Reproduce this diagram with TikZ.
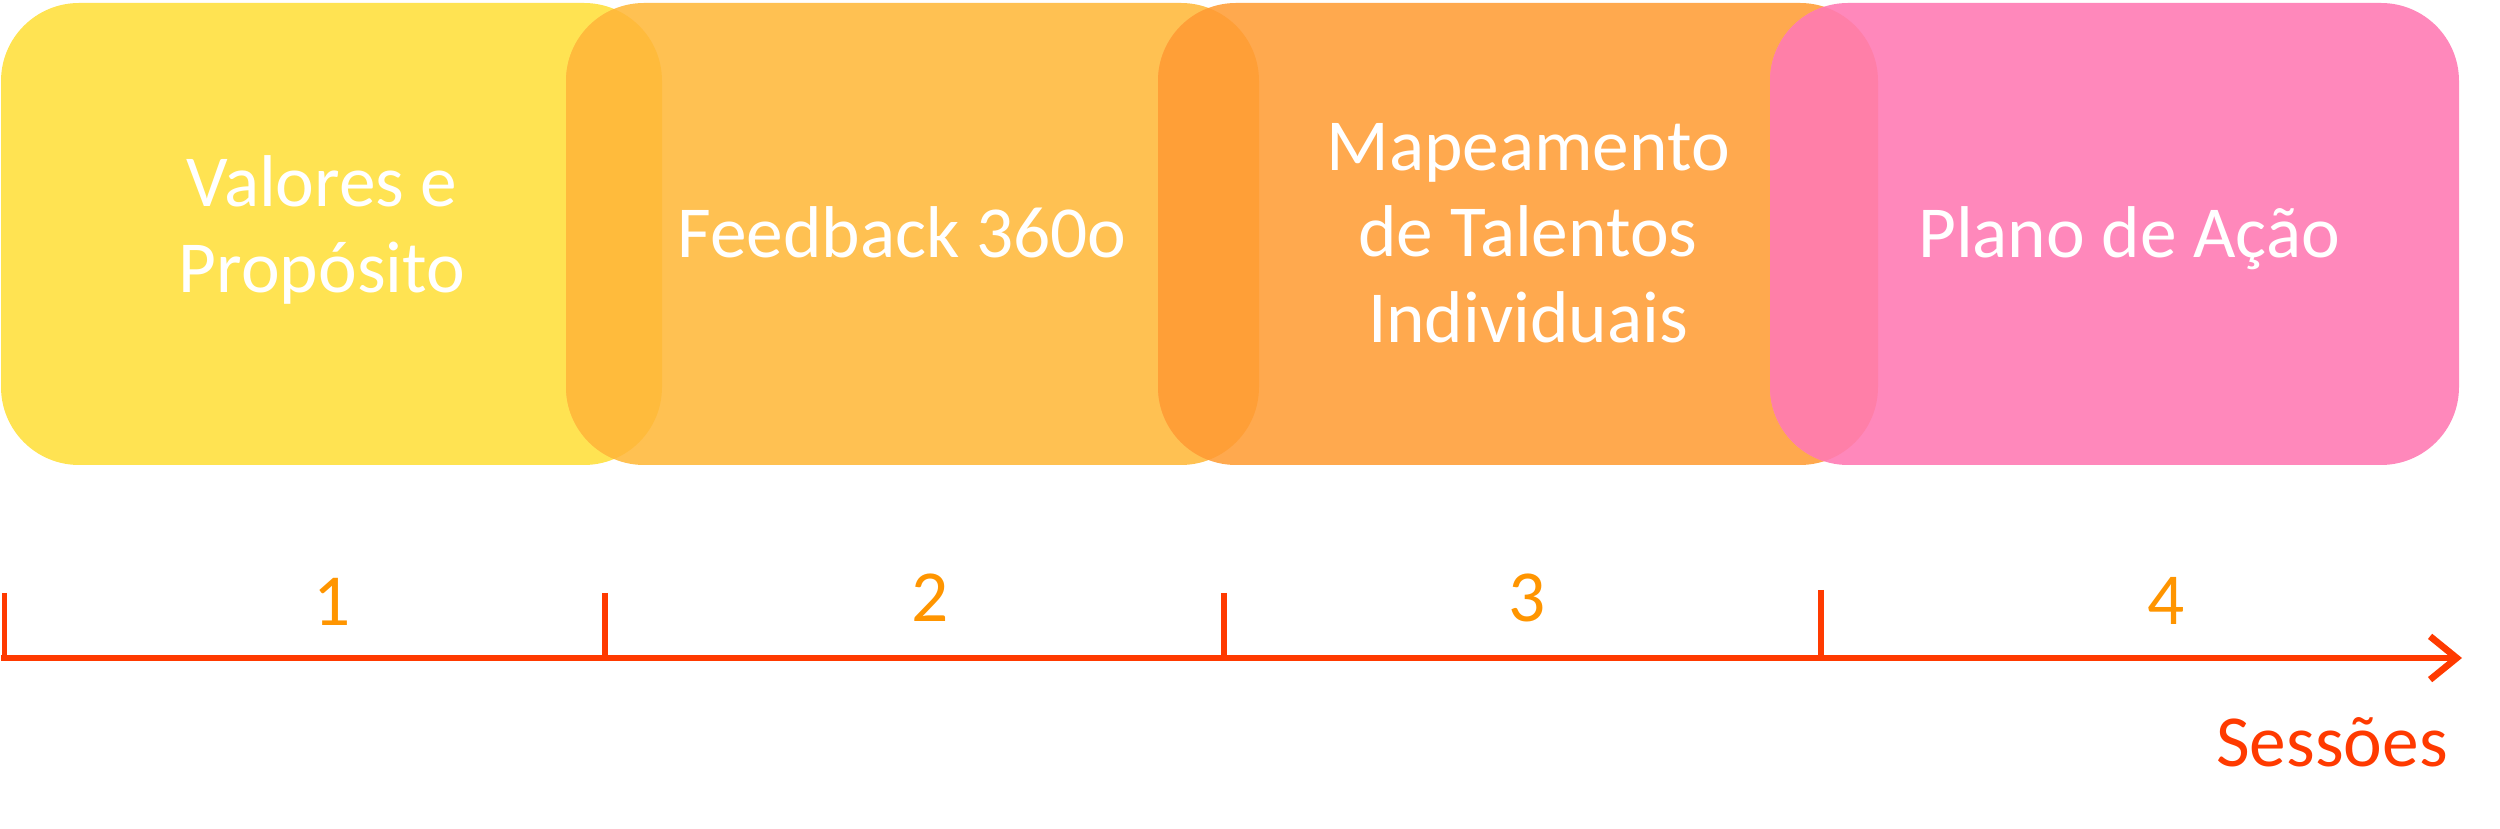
\documentclass[tikz,border=0pt]{standalone}
\usepackage{fontspec}
\setmainfont{Carlito}
\usetikzlibrary{arrows.meta}
\definecolor{yel}{HTML}{FFE352}
\definecolor{org}{HTML}{FFC152}
\definecolor{dor}{HTML}{FFA94E}
\definecolor{pnk}{HTML}{FF88BB}
\definecolor{ovA}{HTML}{FFBB3C}
\definecolor{ovB}{HTML}{FF9F37}
\definecolor{ovC}{HTML}{FF7FA8}
\definecolor{axred}{HTML}{FF3A00}
\definecolor{numorg}{HTML}{FF9500}
\begin{document}
\begin{tikzpicture}[x=0.3pt,y=-0.3pt,
  boxshape/.style={rectangle, rounded corners=23.4pt, inner sep=0pt, outer sep=0pt, minimum height=138.6pt},
  boxtext/.style={text=white, font=\fontsize{22}{25.8}\selectfont, align=center, inner sep=0pt, anchor=base},
  numtext/.style={text=numorg, font=\fontsize{22}{25.8}\selectfont, inner sep=0pt, anchor=base},
  axisline/.style={draw=axred, line width=2pt},
  tickline/.style={draw=axred, line width=1.6pt}]
\useasboundingbox (0,0) rectangle (2500,829);
% boxes
\node[boxshape, fill=yel, minimum width=198.3pt] (b1) at (331.5,234) {};
\node[boxshape, fill=org, minimum width=207.9pt] (b2) at (912.5,234) {};
\node[boxshape, fill=dor, minimum width=216pt] (b3) at (1518,234) {};
\node[boxshape, fill=pnk, minimum width=206.7pt] (b4) at (2114.5,234) {};
% overlaps
\begin{scope}
\clip[rounded corners=23.4pt] (b1.north west) rectangle (b1.south east);
\fill[ovA, rounded corners=23.4pt] (b2.north west) rectangle (b2.south east);
\end{scope}
\begin{scope}
\clip[rounded corners=23.4pt] (b2.north west) rectangle (b2.south east);
\fill[ovB, rounded corners=23.4pt] (b3.north west) rectangle (b3.south east);
\end{scope}
\begin{scope}
\clip[rounded corners=23.4pt] (b3.north west) rectangle (b3.south east);
\fill[ovC, rounded corners=23.4pt] (b4.north west) rectangle (b4.south east);
\end{scope}
% texts (base anchor = baseline of last line)
\node[boxtext] (t1) at (322,293) {Valores e\\Propósito};
\node[boxtext] (t2) at (902,258) {Feedback 360o};
\node[boxtext] (t3) at (1528,343) {Mapeamento\\de Talentos\\Individuais};
\node[boxtext] (t4) at (2129,258) {Plano de Ação};
% axis
\coordinate (a0) at (1,658);
\coordinate (a1) at (2462,658);
\draw[axisline, -{Straight Barb[length=8pt,width=13pt]}] (a0) -- (a1);
\coordinate (k1t) at (4.5,593); \coordinate (k1b) at (4.5,658);
\coordinate (k2t) at (605,593); \coordinate (k2b) at (605,658);
\coordinate (k3t) at (1224,593); \coordinate (k3b) at (1224,658);
\coordinate (k4t) at (1821,590); \coordinate (k4b) at (1821,658);
\draw[tickline] (k1t) -- (k1b);
\draw[tickline] (k2t) -- (k2b);
\draw[tickline] (k3t) -- (k3b);
\draw[tickline] (k4t) -- (k4b);
% numbers
\node[numtext] (n1) at (332,626) {1};
\node[numtext] (n2) at (930,622) {2};
\node[numtext] (n3) at (1527,622) {3};
\node[numtext] (n4) at (2166,625) {4};
\node[numtext, text=axred] (ses) at (2332,767) {Sessões};
\end{tikzpicture}
\end{document}
